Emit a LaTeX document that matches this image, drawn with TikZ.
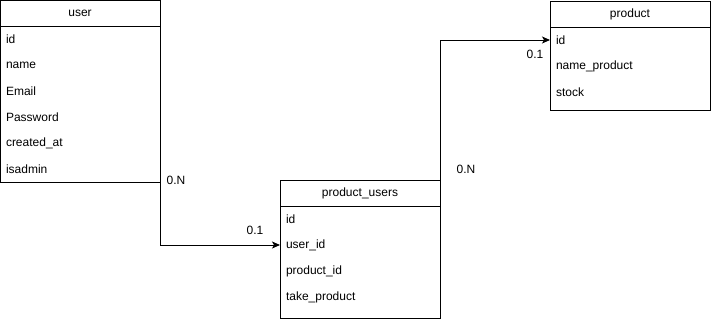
\documentclass[tikz,border=0pt]{standalone}
\usepackage{fontspec}
\setmainfont{Liberation Sans}
\usetikzlibrary{positioning, arrows.meta}

\begin{document}
\begin{tikzpicture}[x=1pt, y=1pt, line width=1pt, font=\fontsize{12}{14}\selectfont,
    head/.style={draw, minimum width=160pt, minimum height=26pt, inner sep=0pt, outer sep=0pt},
    field/.style={minimum height=26pt, text width=148pt, inner xsep=6pt, inner ysep=0pt, outer sep=0pt, align=left},
    link/.style={-{Stealth[length=8pt, width=7pt, inset=2pt]}},
    card/.style={inner sep=0pt}]
    \useasboundingbox (0,0) rectangle (711,-319);

    \node[head] (user) at (80,-13) {user};
    \node[field, below=0pt of user] (u1) {id};
    \node[field, below=0pt of u1] (u2) {name};
    \node[field, below=0pt of u2] (u3) {Email};
    \node[field, below=0pt of u3] (u4) {Password};
    \node[field, below=0pt of u4] (u5) {created\_at};
    \node[field, below=0pt of u5] (u6) {isadmin};
    \draw (u1.north west) rectangle (u6.south east);

    \node[head] (pu) at (360,-193) {product\_users};
    \node[field, below=0pt of pu] (pu1) {id};
    \node[field, below=0pt of pu1] (pu2) {user\_id};
    \node[field, below=0pt of pu2] (pu3) {product\_id};
    \node[field, below=0pt of pu3] (pu4) {take\_product};
    \draw (pu1.north west) rectangle ([yshift=-8pt]pu4.south east);

    \node[head] (prod) at (630,-14) {product};
    \node[field, below=0pt of prod] (p1) {id};
    \node[field, below=0pt of p1] (p2) {name\_product};
    \node[field, below=0pt of p2] (p3) {stock};
    \draw (p1.north west) rectangle ([yshift=-5pt]p3.south east);

    \draw[link] (u6.south east) |- (pu2.west);
    \draw[link] (pu.north east) |- (p1.west);

    \node[card] (c1) at (176,-180) {0.N};
    \node[card] (c2) at (255,-230) {0.1};
    \node[card] (c3) at (466,-169) {0.N};
    \node[card] (c4) at (535,-54) {0.1};
\end{tikzpicture}
\end{document}
